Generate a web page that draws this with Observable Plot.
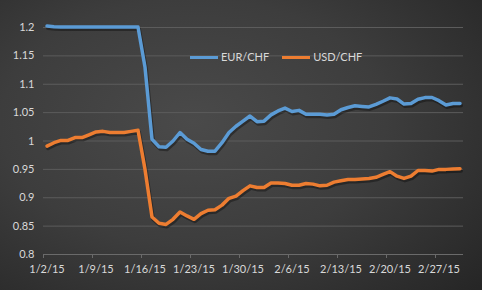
<!DOCTYPE html>
<html><head><meta charset="utf-8">
<script src="https://cdn.jsdelivr.net/npm/d3@7"></script>
<script src="https://cdn.jsdelivr.net/npm/@observablehq/plot@0.6"></script>
<style>
html,body{margin:0;padding:0;background:#2b2b2b;}
#chart{position:relative;width:482px;height:290px;overflow:hidden;
  background: radial-gradient(ellipse 80% 85% at 40% 42%, #4a4a4a 0%, #3d3d3d 50%, #262626 100%);
  font-family: Lato, "Noto Sans", sans-serif;}
#chart svg{position:absolute;left:0;top:0;}
#legend{position:absolute;top:50px;left:190px;display:flex;align-items:center;font-size:11px;line-height:14px;color:#d9d9d9;z-index:2;}
.sw{display:inline-block;width:28px;height:3px;margin-right:3px;}
.lt{margin-right:13px;}
</style></head><body><div id="chart"><div id="legend"></div></div>
<script>
const startDate = "2015-01-02";
const endDate = "2015-03-02";
const eurChf = [
  1.2025, 1.2015, 1.2010, 1.2008, 1.2008, 1.2007, 1.2007, 1.2008, 1.2009, 1.2008,
  1.2008, 1.2007, 1.2008, 1.2009, 1.130, 1.003, 0.990, 0.989, 1.000, 1.015,
  1.003, 0.996, 0.985, 0.982, 0.982, 0.997, 1.015, 1.026, 1.035, 1.044,
  1.034, 1.035, 1.046, 1.053, 1.058, 1.052, 1.054, 1.047, 1.047, 1.047,
  1.046, 1.047, 1.055, 1.059, 1.062, 1.061, 1.060, 1.0645, 1.070, 1.076,
  1.074, 1.065, 1.066, 1.0735, 1.0765, 1.0766, 1.071, 1.0635, 1.066, 1.066
];
const usdChf = [
  0.991, 0.997, 1.001, 1.001, 1.006, 1.006, 1.011, 1.016, 1.017, 1.015,
  1.015, 1.015, 1.017, 1.019, 0.950, 0.866, 0.855, 0.853, 0.862, 0.875,
  0.868, 0.862, 0.872, 0.878, 0.879, 0.887, 0.899, 0.903, 0.9125, 0.921,
  0.918, 0.918, 0.926, 0.926, 0.925, 0.922, 0.922, 0.925, 0.924, 0.921,
  0.922, 0.9275, 0.930, 0.932, 0.932, 0.933, 0.934, 0.936, 0.941, 0.946,
  0.938, 0.934, 0.938, 0.948, 0.948, 0.947, 0.950, 0.950, 0.9505, 0.951
];
const seriesNames = ["EUR/CHF", "USD/CHF"];
const seriesColors = ["#5b9bd5", "#ed7d31"];
const xTickDates = ["2015-01-02","2015-01-09","2015-01-16","2015-01-23","2015-01-30","2015-02-06","2015-02-13","2015-02-20","2015-02-27"];
const xTickLabels = ["1/2/15","1/9/15","1/16/15","1/23/15","1/30/15","2/6/15","2/13/15","2/20/15","2/27/15"];
const yTicks = [0.8, 0.85, 0.9, 0.95, 1, 1.05, 1.1, 1.15, 1.2];
const yTickLabels = ["0.8","0.85","0.9","0.95","1","1.05","1.1","1.15","1.2"];

const HALF = 12 * 3600 * 1000;
const days = d3.utcDay.range(new Date(startDate), d3.utcDay.offset(new Date(endDate), 1));
const series = [eurChf, usdChf];
const data = [];
series.forEach((vals, s) => days.forEach((d, i) => data.push({date: new Date(+d + HALF), value: vals[i], series: seriesNames[s]})));

const xLabelMap = new Map(xTickDates.map((d, i) => [+new Date(d) + HALF, xTickLabels[i]]));
const yLabelMap = new Map(yTicks.map((v, i) => [v, yTickLabels[i]]));

const chart = Plot.plot({
  width: 482, height: 290,
  marginLeft: 43, marginRight: 19, marginTop: 27, marginBottom: 36,
  style: {background: "transparent", color: "#d9d9d9", fontFamily: "Lato, 'Noto Sans', sans-serif", fontSize: "11px", overflow: "visible"},
  x: {type: "utc", domain: [new Date(startDate), d3.utcDay.offset(new Date(endDate), 1)], label: null},
  y: {domain: [0.8, 1.2], label: null},
  color: {domain: seriesNames, range: seriesColors},
  marks: [
    Plot.gridY(yTicks, {stroke: "#5c5c5c", strokeOpacity: 1, strokeWidth: 1}),
    Plot.ruleY([0.8], {stroke: "#6a6a6a", strokeWidth: 1}),
    Plot.axisY(yTicks, {tickSize: 0, tickPadding: 9, tickFormat: d => yLabelMap.get(d), fill: "#d9d9d9", label: null}),
    Plot.axisX(xTickDates.map(d => new Date(d)), {tickSize: 4, tickFormat: () => "", stroke: "#6a6a6a", label: null}),
    Plot.axisX(xTickDates.map(d => new Date(+new Date(d) + HALF)), {tickSize: 0, tickPadding: 11, tickFormat: d => xLabelMap.get(+d), fill: "#d9d9d9", label: null}),
    Plot.line(data, {x: "date", y: "value", z: "series", stroke: "#000", strokeOpacity: 0.35, strokeWidth: 4, dx: 1, dy: 2, strokeLinejoin: "round"}),
    Plot.line(data, {x: "date", y: "value", stroke: "series", strokeWidth: 3.5, strokeLinejoin: "round", strokeLinecap: "round"})
  ]
});
document.getElementById("chart").appendChild(chart);

const legend = document.getElementById("legend");
seriesNames.forEach((n, i) => {
  const sw = document.createElement("span");
  sw.className = "sw"; sw.style.background = seriesColors[i];
  const t = document.createElement("span");
  t.className = "lt"; t.textContent = n;
  legend.appendChild(sw); legend.appendChild(t);
});
</script>
</body></html>
